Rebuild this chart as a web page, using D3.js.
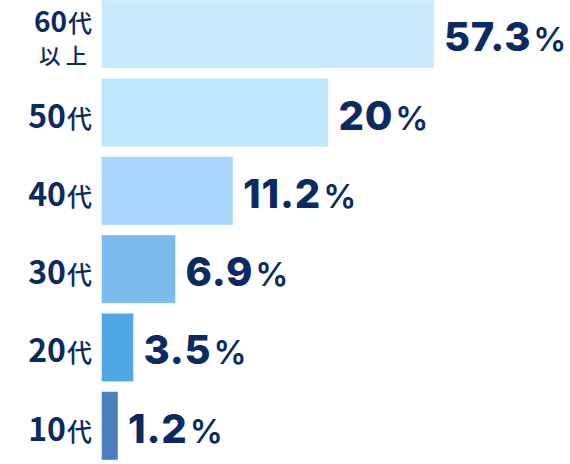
<!DOCTYPE html>
<html><head><meta charset="utf-8">
<script src="https://cdn.jsdelivr.net/npm/d3@7/dist/d3.min.js"></script>
<style>html,body{margin:0;padding:0;background:#fff;}svg{display:block;}</style>
</head><body>
<script>
// data
const categories = ["60代以上", "50代", "40代", "30代", "20代", "10代"];
const ageNumbers = ["60", "50", "40", "30", "20", "10"];
const ageSuffix = ["代", "代", "代", "代", "代", "代"];
const ageSecondLine = ["以上", "", "", "", "", ""];
const values = [57.3, 20, 11.2, 6.9, 3.5, 1.2];
const valueLabels = ["57.3", "20", "11.2", "6.9", "3.5", "1.2"];
const colors = ["#c9eafe", "#bbe6fe", "#a7d5fc", "#7bbbed", "#4fa7e6", "#4b80bf"];

const W = 570, H = 464;
const svg = d3.select("body").append("svg").attr("width", W).attr("height", H);
const ink = "#0c2a62";

const x0 = 101.5;
// infographic bars are not proportional: piecewise scale through the sorted values
const sortedVals = values.slice().sort((a, b) => a - b);
const x = d3.scaleLinear()
  .domain([0].concat(sortedVals))
  .range([0, 16.5, 32, 74, 131.5, 227, 332.5]);

const y = d3.scaleBand().domain(categories).range([0, 460]).paddingInner(10 / 79).paddingOuter(0);

const rows = svg.selectAll("g.row").data(categories).join("g").attr("class", "row")
  .attr("transform", d => `translate(0,${y(d)})`);

rows.append("rect")
  .attr("x", x0)
  .attr("y", 0)
  .attr("width", (d, i) => x(values[i]))
  .attr("height", y.bandwidth())
  .attr("fill", (d, i) => colors[i])
  .attr("stroke", "rgba(255,255,255,0.45)")
  .attr("stroke-width", 1);

const bw = y.bandwidth();

// category labels
rows.each(function (d, i) {
  const g = d3.select(this);
  const two = ageSecondLine[i] !== "";
  const t = g.append("text")
    .attr("x", 92)
    .attr("y", two ? bw / 2 - 2.5 : bw / 2 + 15)
    .attr("text-anchor", "end")
    .attr("fill", ink)
    .style("font-family", "'Noto Sans CJK JP', 'Noto Sans', sans-serif");
  t.append("tspan").text(ageNumbers[i])
    .style("font-size", two ? "28px" : "32px").style("font-weight", 700);
  t.append("tspan").text(ageSuffix[i])
    .style("font-size", two ? "24px" : "25px").style("font-weight", 500).attr("dx", 1);
  if (two) {
    g.append("text")
      .attr("x", 92)
      .attr("y", bw / 2 + 30)
      .attr("text-anchor", "end")
      .attr("fill", ink)
      .style("font-family", "'Noto Sans CJK JP', sans-serif")
      .style("font-size", "21.5px").style("font-weight", 500)
      .style("letter-spacing", "5px")
      .text(ageSecondLine[i]);
  }
});

// value labels
rows.append("text")
  .attr("x", (d, i) => x0 + x(values[i]) + 10)
  .attr("y", bw / 2 + 17)
  .attr("fill", ink)
  .style("font-family", "Inter, 'Open Sans', sans-serif")
  .each(function (d, i) {
    const t = d3.select(this);
    t.append("tspan").text(valueLabels[i])
      .style("font-size", "40px").style("font-weight", 800).style("letter-spacing", "0.8px");
    t.append("tspan").text("%").attr("dx", 2)
      .style("font-size", "33px").style("font-weight", 600);
  });
</script>
</body></html>
